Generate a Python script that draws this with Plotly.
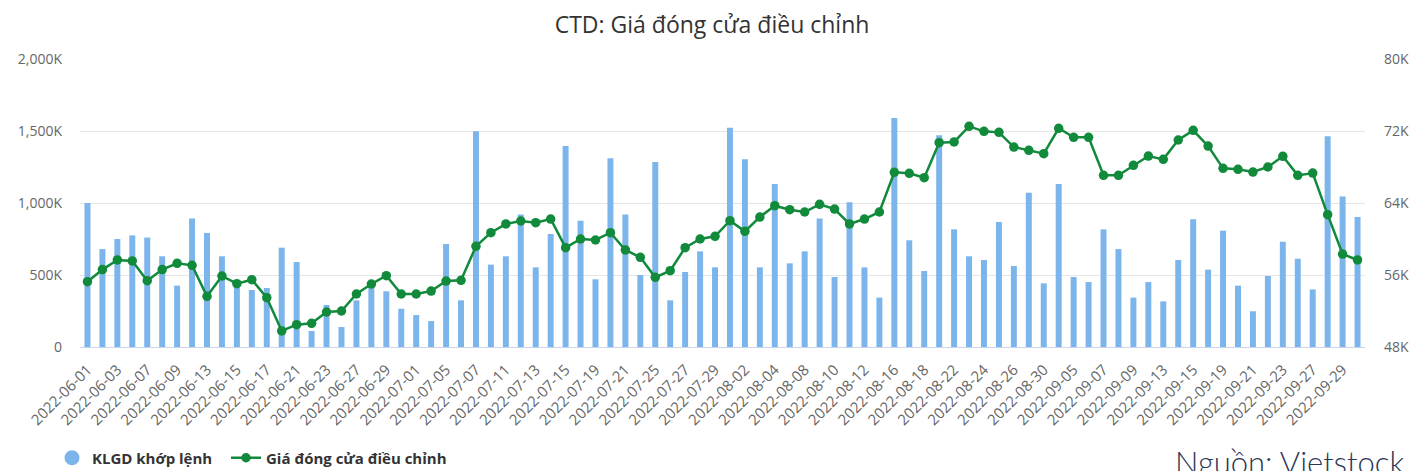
import plotly.graph_objects as go

dates = [
    "2022-06-01","2022-06-02","2022-06-03","2022-06-06","2022-06-07","2022-06-08","2022-06-09","2022-06-10",
    "2022-06-13","2022-06-14","2022-06-15","2022-06-16","2022-06-17","2022-06-20","2022-06-21","2022-06-22",
    "2022-06-23","2022-06-24","2022-06-27","2022-06-28","2022-06-29","2022-06-30",
    "2022-07-01","2022-07-04","2022-07-05","2022-07-06","2022-07-07","2022-07-08","2022-07-11","2022-07-12",
    "2022-07-13","2022-07-14","2022-07-15","2022-07-18","2022-07-19","2022-07-20","2022-07-21","2022-07-22",
    "2022-07-25","2022-07-26","2022-07-27","2022-07-28","2022-07-29",
    "2022-08-01","2022-08-02","2022-08-03","2022-08-04","2022-08-05","2022-08-08","2022-08-09","2022-08-10",
    "2022-08-11","2022-08-12","2022-08-15","2022-08-16","2022-08-17","2022-08-18","2022-08-19","2022-08-22",
    "2022-08-23","2022-08-24","2022-08-25","2022-08-26","2022-08-29","2022-08-30","2022-08-31",
    "2022-09-05","2022-09-06","2022-09-07","2022-09-08","2022-09-09","2022-09-12","2022-09-13","2022-09-14",
    "2022-09-15","2022-09-16","2022-09-19","2022-09-20","2022-09-21","2022-09-22","2022-09-23","2022-09-26",
    "2022-09-27","2022-09-28","2022-09-29","2022-09-30",
]

# Matched volume (thousand shares)
volume_k = [
    1000, 680, 750, 775, 760, 630, 426, 893, 792, 630, 420, 396, 410, 690, 590, 111,
    292, 139, 324, 410, 387, 266,
    222, 180, 715, 324, 1498, 572, 630, 921, 553, 785, 1396, 877, 470, 1310, 921, 500,
    1285, 324, 521, 664, 553,
    1523, 1303, 553, 1132, 581, 664, 893, 486, 1005, 553, 343, 1590, 741, 528, 1470, 817,
    630, 604, 868, 562, 1072, 442, 1132,
    486, 451, 817, 680, 343, 451, 317, 604, 887, 537, 808, 426, 248, 493, 731, 613,
    400, 1463, 1046, 903,
]

# Adjusted close price (thousand VND)
price_k = [
    55.26, 56.60, 57.67, 57.56, 55.37, 56.60, 57.30, 57.07, 53.63, 55.89, 55.04, 55.48, 53.48, 49.78, 50.48, 50.63,
    51.89, 52.00, 53.89, 55.00, 55.93, 53.89,
    53.89, 54.22, 55.33, 55.41, 59.19, 60.70, 61.67, 62.00, 61.81, 62.22, 59.04, 60.00, 59.89, 60.70, 58.78, 57.96,
    55.74, 56.48, 59.04, 60.00, 60.30,
    62.04, 60.85, 62.44, 63.70, 63.26, 63.00, 63.85, 63.33, 61.67, 62.22, 63.00, 67.41, 67.30, 66.81, 70.70, 70.78,
    72.52, 71.96, 71.85, 70.22, 69.85, 69.48, 72.30,
    71.30, 71.30, 67.08, 67.07, 68.19, 69.22, 68.85, 71.00, 72.07, 70.33, 67.85, 67.74, 67.44, 68.00, 69.19, 67.07,
    67.33, 62.70, 58.33, 57.67,
]

vol_tickvals = [0, 500, 1000, 1500, 2000]
vol_ticktext = ["0", "500K", "1,000K", "1,500K", "2,000K"]
price_tickvals = [48, 56, 64, 72, 80]
price_ticktext = ["48K", "56K", "64K", "72K", "80K"]

BAR_COLOR = "#7cb5ec"
LINE_COLOR = "#118a3b"
FONT = "Open Sans"

fig = go.Figure()

fig.add_trace(go.Bar(
    x=dates, y=volume_k, name="KLGD khớp lệnh", marker=dict(color=BAR_COLOR, line=dict(width=0)),
    yaxis="y", showlegend=False, legendgroup="vol",
))
# legend proxy (circle symbol as in reference)
fig.add_trace(go.Scatter(
    x=[None], y=[None], mode="markers", name="KLGD khớp lệnh",
    marker=dict(color=BAR_COLOR, size=15, symbol="circle"), legendgroup="vol", yaxis="y",
    legend="legend",
))
fig.add_trace(go.Scatter(
    x=dates, y=price_k, name="Giá đóng cửa điều chỉnh", mode="lines+markers",
    line=dict(color=LINE_COLOR, width=2.5), marker=dict(color=LINE_COLOR, size=9.5),
    yaxis="y2", legend="legend2",
))

legend_font = dict(size=15, color="#333333", family=FONT, weight="bold")
legend_y = 1 - 458 / 471

fig.update_layout(
    width=1411, height=471,
    margin=dict(l=80, r=46, t=59, b=124),
    paper_bgcolor="white", plot_bgcolor="white",
    font=dict(family=FONT, color="#666666", size=14),
    title=dict(text="CTD: Giá đóng cửa điều chỉnh", x=712 / 1411, xanchor="center",
               y=1 - 25 / 471, yref="container", yanchor="middle",
               font=dict(size=23, color="#333333", family=FONT)),
    bargap=0.6,
    xaxis=dict(type="category", tickmode="array", tickvals=dates[::2], ticktext=dates[::2],
               tickangle=-45, tickfont=dict(size=15, color="#666666"), automargin=False,
               showgrid=False, showline=True, linecolor="#ccd6eb", linewidth=1,
               ticks="", ticklabelstandoff=7, range=[-0.5, len(dates) - 0.5]),
    yaxis=dict(range=[0, 2000], tickvals=vol_tickvals, ticktext=vol_ticktext, automargin=False,
               showgrid=True, gridcolor="#e6e6e6", gridwidth=1, zeroline=False,
               tickfont=dict(size=14, color="#666666"), ticks="", ticklabelstandoff=17),
    yaxis2=dict(range=[48, 80], tickvals=price_tickvals, ticktext=price_ticktext, automargin=False,
                overlaying="y", side="right", showgrid=False, zeroline=False,
                tickfont=dict(size=14, color="#666666"), ticklabelstandoff=18),
    legend=dict(orientation="h", xref="container", yref="container",
                x=52 / 1411, xanchor="left", y=legend_y, yanchor="middle",
                font=legend_font, itemwidth=30, bgcolor="rgba(0,0,0,0)"),
    legend2=dict(orientation="h", xref="container", yref="container",
                 x=226 / 1411, xanchor="left", y=legend_y, yanchor="middle",
                 font=legend_font, itemwidth=30, bgcolor="rgba(0,0,0,0)"),
    annotations=[dict(text="Nguồn: Vietstock", xref="paper", yref="paper",
                      x=(1406 - 80) / 1285, y=(347 - 462) / 288, xanchor="right", yanchor="middle",
                      showarrow=False, font=dict(size=31, color="#2b3656", family="Lato", weight=300))],
)

fig.write_html("out.html", config={"displayModeBar": False},
               post_script="document.body.style.margin='0px';document.body.style.overflow='hidden';")
